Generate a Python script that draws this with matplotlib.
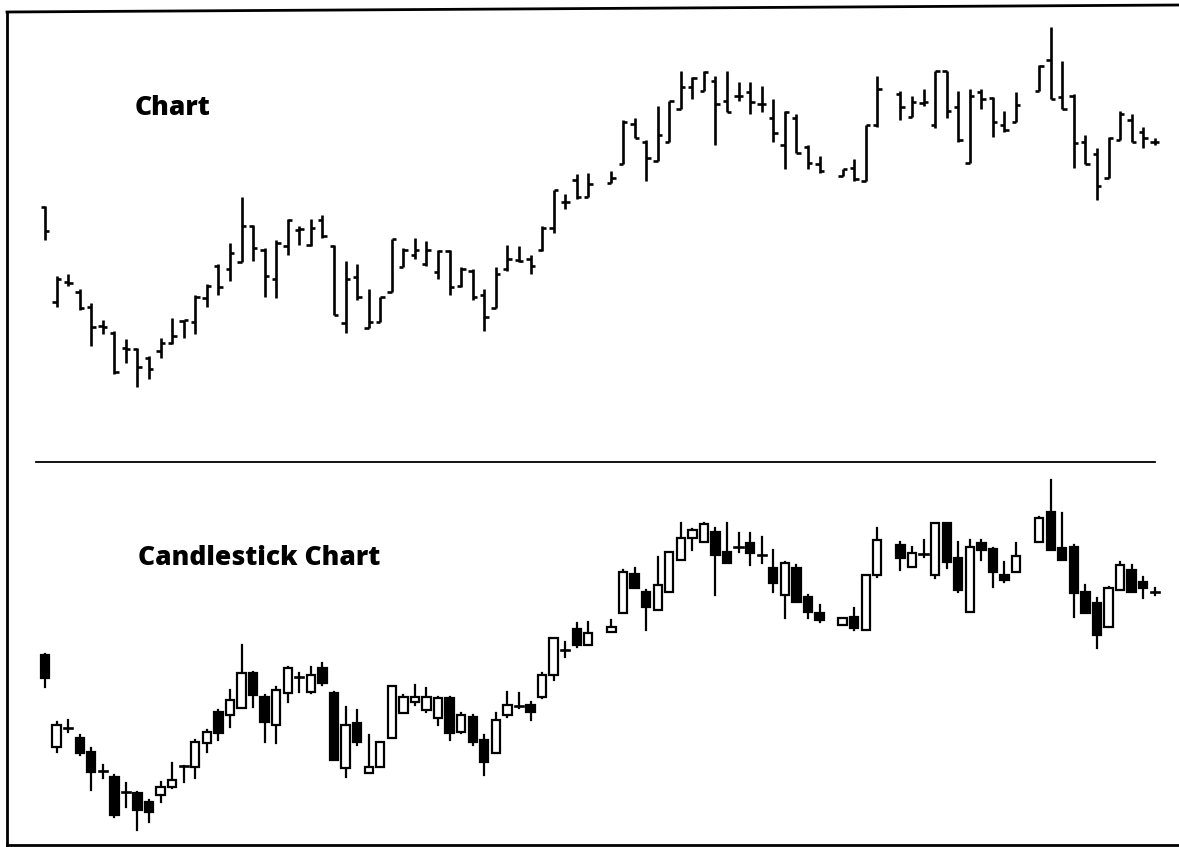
import numpy as np
import matplotlib
matplotlib.use("Agg")
import matplotlib.pyplot as plt
from matplotlib.patches import Rectangle

# daily prices (NaN = no trading that day)
nan = np.nan
opens = [24.5, 15.3, 17.2, 16.2, 14.8, 12.9, 12.3, 10.8, 10.7, 9.8,
         10.5, 11.3, 13.4, 13.3, 15.7, 18.8, 18.5, 19.2, 22.7, 20.3,
         17.5, 20.7, 22.3, 20.8, 23.2, 20.7, 13.2, 17.7, 12.7, 13.3,
         16.2, 18.7, 19.8, 19.0, 18.2, 20.2, 16.8, 18.3, 16.0, 14.7,
         18.5, 19.4, 19.5, 20.3, 22.5, 25.0, 27.1, 25.5, nan, 26.8,
         28.7, 32.6, 30.8, 29.0, 30.8, 34.0, 36.2, 35.8, 36.8, 34.8,
         35.3, 35.7, 34.5, 33.2, 30.5, 33.2, 30.3, 28.7, nan, 27.5,
         28.3, 27.0, 32.5, nan, 35.5, 33.3, 34.6, 32.5, 37.7, 34.2,
         28.8, 35.7, 35.1, 32.5, 32.8, nan, 35.8, 38.8, 35.2, 35.3,
         30.8, 29.7, 27.3, 31.0, 33.0, 31.8, 30.8]
highs = [24.6, 17.8, 18.0, 16.5, 15.2, 13.5, 12.5, 11.7, 10.8, 10.0,
         11.8, 13.7, 13.5, 16.0, 17.0, 19.0, 21.0, 25.5, 22.8, 20.5,
         21.3, 23.3, 22.7, 23.3, 23.7, 20.8, 19.3, 19.0, 16.5, 15.8,
         21.4, 20.5, 21.5, 21.2, 20.3, 20.3, 18.7, 18.5, 16.5, 18.7,
         20.8, 20.7, 19.8, 22.7, 26.2, 25.8, 27.7, 27.8, nan, 28.0,
         33.0, 33.2, 31.0, 34.3, 34.8, 37.7, 37.1, 37.7, 37.2, 37.7,
         36.7, 36.7, 36.3, 35.0, 33.8, 33.5, 30.5, 29.5, nan, 28.2,
         29.2, 32.5, 37.2, nan, 35.8, 35.3, 36.0, 37.7, 37.7, 35.8,
         36.0, 36.0, 35.2, 33.8, 35.7, nan, 38.3, 42.0, 38.7, 35.5,
         31.5, 30.2, 31.3, 33.8, 33.5, 32.3, 31.2]
lows = [21.3, 14.8, 16.8, 14.5, 11.0, 12.2, 8.3, 9.3, 7.0, 7.8,
        9.8, 11.2, 11.8, 12.2, 14.8, 16.0, 17.3, 19.2, 19.3, 15.8,
        15.7, 19.8, 20.8, 20.7, 21.5, 14.0, 12.3, 15.5, 12.7, 13.3,
        16.2, 18.7, 19.5, 18.8, 17.5, 16.0, 16.7, 15.5, 12.5, 14.7,
        18.3, 19.2, 18.0, 20.2, 22.0, 24.3, 25.3, 25.5, nan, 26.8,
        28.7, 31.2, 27.0, 29.0, 30.8, 34.0, 35.0, 35.8, 30.5, 33.7,
        34.8, 33.5, 33.7, 30.8, 28.2, 29.8, 28.2, 27.8, nan, 27.5,
        27.0, 27.0, 32.3, nan, 33.0, 33.3, 34.3, 32.2, 33.2, 30.8,
        28.8, 34.0, 31.3, 31.8, 32.8, nan, 35.8, 35.0, 34.0, 28.3,
        28.7, 25.2, 27.3, 31.0, 30.8, 30.2, 30.5]
closes = [22.2, 17.5, 17.1, 14.7, 12.8, 12.8, 8.5, 10.7, 9.0, 8.8,
          11.3, 12.0, 13.5, 15.8, 16.8, 16.7, 20.0, 22.7, 20.5, 17.8,
          21.0, 23.2, 22.4, 22.5, 21.7, 14.0, 17.5, 15.8, 13.3, 15.8,
          21.4, 20.3, 20.3, 20.3, 20.2, 16.7, 18.5, 15.8, 13.8, 18.0,
          19.5, 19.3, 18.8, 22.5, 26.2, 25.0, 25.5, 26.7, nan, 27.3,
          32.8, 31.2, 29.3, 31.5, 34.8, 36.2, 37.0, 37.6, 34.5, 33.7,
          35.3, 34.7, 34.5, 31.7, 33.7, 29.8, 28.8, 28.0, nan, 28.2,
          27.2, 32.5, 36.0, nan, 34.2, 34.7, 34.7, 37.7, 33.8, 31.0,
          35.3, 35.0, 32.8, 32.0, 34.4, nan, 38.2, 35.0, 34.0, 30.7,
          28.7, 26.5, 31.2, 33.5, 30.8, 31.2, 30.8]

top_title = "Chart"
bottom_title = "Candlestick Chart"

W, H = 1179, 847
fig = plt.figure(figsize=(W / 100, H / 100), dpi=100)
font = ["Open Sans", "DejaVu Sans"]

# x: day i sits at pixel 45 + 11.56*i
step, x0 = 11.56, 45
xlim = (-x0 / step, (W - x0) / step)


def px_axes(top, bottom):
    return fig.add_axes([0, 1 - bottom / H, 1, (bottom - top) / H])


# ---- bar chart (top)
ax1 = px_axes(15, 450)
ax1.set_xlim(*xlim)
s1 = 10.29
ax1.set_ylim(42 - (450 - 27) / s1, 42 + (27 - 15) / s1)
tick = 0.38
for i, (o, h, l, c) in enumerate(zip(opens, highs, lows, closes)):
    if np.isnan(o):
        continue
    ax1.plot([i, i], [l, h], color="black", lw=1.9, solid_capstyle="butt")
    ax1.plot([i - tick, i], [o, o], color="black", lw=1.9, solid_capstyle="butt")
    ax1.plot([i, i + tick], [c, c], color="black", lw=1.9, solid_capstyle="butt")
ax1.axis("off")

# ---- candlesticks (bottom)
ax2 = px_axes(470, 847)
ax2.set_xlim(*xlim)
ax2.set_ylim((900 - 847) / 10, (900 - 470) / 10)
bw = 0.72
for i, (o, h, l, c) in enumerate(zip(opens, highs, lows, closes)):
    if np.isnan(o):
        continue
    lo, hi = min(o, c), max(o, c)
    ax2.plot([i, i], [l, lo], color="black", lw=1.6, zorder=1)
    ax2.plot([i, i], [hi, h], color="black", lw=1.6, zorder=1)
    if hi - lo < 0.15:
        ax2.plot([i - bw / 2, i + bw / 2], [o, o], color="black", lw=1.9, zorder=2)
    else:
        face = "white" if c > o else "black"
        ax2.add_patch(Rectangle((i - bw / 2, lo), bw, hi - lo, facecolor=face,
                                edgecolor="black", lw=1.6, zorder=2))
ax2.axis("off")

# ---- frame, divider and labels
bg = fig.add_axes([0, 0, 1, 1], zorder=-1)
bg.set_xlim(0, W)
bg.set_ylim(H, 0)
bg.axis("off")
bg.plot([7, 7], [12, 845], color="black", lw=2)
bg.plot([7, W], [12, 5], color="black", lw=2)
bg.plot([7, W], [845, 845], color="black", lw=2)
bg.plot([36, 1155], [462, 462], color="black", lw=1.3)
bg.text(135, 108, top_title, fontsize=19, fontweight=800, family=font,
        va="center", ha="left")
bg.text(138, 558, bottom_title, fontsize=19, fontweight=800, family=font,
        va="center", ha="left")

fig.savefig("out.png", dpi=100, facecolor="white")
